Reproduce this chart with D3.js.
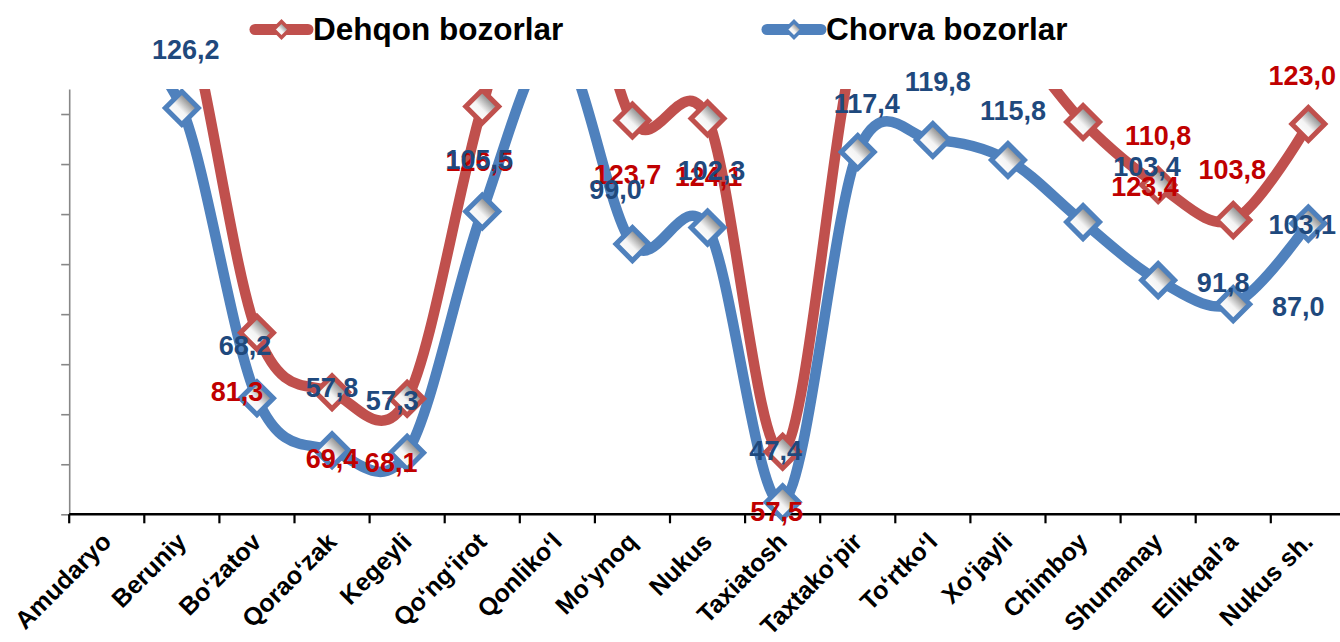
<!DOCTYPE html>
<html><head><meta charset="utf-8">
<script src="https://cdn.jsdelivr.net/npm/d3@7"></script>
<style>
body{margin:0;background:#fff;}
svg{display:block;font-family:"Liberation Sans",Arial,sans-serif;}
</style>
</head><body>
<svg id="chart" width="1340" height="642"></svg>
<script>
// ---- data ----
const categories = ["Amudaryo","Beruniy","Bo‘zatov","Qorao‘zak","Kegeyli","Qo‘ng‘irot","Qonliko‘l","Mo‘ynoq","Nukus","Taxiatosh","Taxtako‘pir","To‘rtko‘l","Xo‘jayli","Chimboy","Shumanay","Ellikqal’a","Nukus sh."];
const seriesNames = ["Dehqon bozorlar","Chorva bozorlar"];
// values above the axis maximum (130) run off the top of the plot; those are estimated from the curves
const dehqonValues = [160,148,81.3,69.4,68.1,126.5,170,123.7,124.1,57.5,141,150,141,123.4,110.8,103.8,123.0];
const chorvaValues = [140,126.2,68.2,57.8,57.3,105.5,139,99.0,102.3,47.4,117.4,119.8,115.8,103.4,91.8,87.0,103.1];
const yTicks = [45,55,65,75,85,95,105,115,125];
const yDomain = [45,130];
// data-label placement (offset of label centre from its point, px)
const dehqonLabelDx = [0,0,-20,0,-16,-3,0,-5,1,-6,0,0,0,62,0,-1,-6];
const dehqonLabelDy = [60,60,59,66,64,55,60,54,58,60,60,60,60,64,-50,-51,-49];
const chorvaLabelDx = [0,4,-12,0,-15,-3,0,-17,4,-7,9,5,5,64,65,65,-6];
const chorvaLabelDy = [-55,-59,-53,-63,-52,-52,-55,-55,-57,-52,-49,-59,-50,-56,2,2,1];

// ---- layout ----
const W = 1340, H = 642;
const plot = {left: 69.2, top: 89, bottom: 514.3, band: 75.1};
const colors = {red: "#C0504D", blue: "#4F81BD", redText: "#C00000", blueText: "#1F497D"};

const svg = d3.select("#chart");
const defs = svg.append("defs");
const grad = defs.append("linearGradient").attr("id","mk")
  .attr("x1","0.2").attr("y1","0.8").attr("x2","0.85").attr("y2","0.15");
grad.append("stop").attr("offset","0").attr("stop-color","#ffffff");
grad.append("stop").attr("offset","0.4").attr("stop-color","#f4f4f4");
grad.append("stop").attr("offset","1").attr("stop-color","#5a5a5a");
defs.append("clipPath").attr("id","clip").append("rect")
  .attr("x",0).attr("y",plot.top).attr("width",W).attr("height",H-plot.top);

const x = d3.scaleBand().domain(categories)
  .range([plot.left, plot.left + plot.band*categories.length]).padding(0);
const y = d3.scaleLinear().domain(yDomain).range([plot.bottom, plot.top]);
const cx = c => x(c) + x.bandwidth()/2;

// ---- y axis (no labels) ----
const yAxis = svg.append("g").attr("transform",`translate(${plot.left},0)`)
  .call(d3.axisLeft(y).tickValues(yTicks).tickSize(8).tickSizeOuter(0).tickFormat(""));
yAxis.select(".domain").attr("stroke","#878787").attr("stroke-width",1.6);
yAxis.selectAll(".tick line").attr("stroke","#878787").attr("stroke-width",1.6);

// ---- x axis ----
const xg = svg.append("g");
xg.append("line").attr("x1",plot.left).attr("x2",W).attr("y1",plot.bottom).attr("y2",plot.bottom)
  .attr("stroke","#000").attr("stroke-width",2.6);
const bounds = categories.map(c => x(c)).concat([x(categories[categories.length-1]) + x.bandwidth()]);
xg.selectAll("line.tk").data(bounds).join("line").attr("class","tk")
  .attr("x1",d=>d).attr("x2",d=>d).attr("y1",plot.bottom).attr("y2",plot.bottom+9)
  .attr("stroke","#000").attr("stroke-width",2.2);
xg.selectAll("text").data(categories).join("text")
  .attr("transform",c=>`translate(${cx(c)+6},${plot.bottom+29}) rotate(-45)`)
  .attr("text-anchor","end").attr("font-weight","bold").attr("font-size",25)
  .attr("fill","#000").text(c=>c);

// ---- series ----
const series = [
  {name: seriesNames[0], values: dehqonValues, color: colors.red, text: colors.redText, dx: dehqonLabelDx, dy: dehqonLabelDy},
  {name: seriesNames[1], values: chorvaValues, color: colors.blue, text: colors.blueText, dx: chorvaLabelDx, dy: chorvaLabelDy}
];
const line = d3.line().x((d,i)=>cx(categories[i])).y(d=>y(d)).curve(d3.curveCardinal.tension(0));
const diamond = r => `M0,${-r}L${r},0L0,${r}L${-r},0Z`;

const gPlot = svg.append("g").attr("clip-path","url(#clip)");
series.forEach(s => {
  gPlot.append("path").attr("d", line(s.values)).attr("fill","none")
    .attr("stroke", s.color).attr("stroke-width",10.5)
    .attr("stroke-linejoin","round").attr("stroke-linecap","round");
});
series.forEach(s => {
  gPlot.selectAll(null).data(s.values).join("path")
    .attr("transform",(d,i)=>`translate(${cx(categories[i])},${y(d)})`)
    .attr("d", diamond(16.5)).attr("fill","url(#mk)")
    .attr("stroke", s.color).attr("stroke-width",5).attr("stroke-linejoin","miter");
});

// ---- data labels ----
const fmt = v => d3.format(".1f")(v).replace(".", ",");
series.forEach(s => {
  svg.append("g").selectAll("text")
    .data(s.values.map((v,i)=>({v,i})).filter(d => d.v <= yDomain[1]))
    .join("text")
    .attr("x", d => cx(categories[d.i]) + s.dx[d.i])
    .attr("y", d => y(d.v) + s.dy[d.i] + 9.5)
    .attr("text-anchor","middle").attr("font-weight","bold").attr("font-size",27)
    .attr("fill", s.text).text(d => fmt(d.v));
});

// ---- legend ----
const legendItems = [
  {s: series[0], x0: 250, x1: 313, tx: 313},
  {s: series[1], x0: 762, x1: 826, tx: 826}
];
const lg = svg.append("g");
legendItems.forEach(it => {
  const ly = 29.5;
  lg.append("line").attr("x1",it.x0+5).attr("x2",it.x1-5).attr("y1",ly).attr("y2",ly)
    .attr("stroke", it.s.color).attr("stroke-width",11).attr("stroke-linecap","round");
  lg.append("path").attr("transform",`translate(${(it.x0+it.x1)/2},${ly})`)
    .attr("d", diamond(8)).attr("fill","url(#mk)")
    .attr("stroke", it.s.color).attr("stroke-width",3.5);
  lg.append("text").attr("x", it.tx).attr("y", 40).attr("font-weight","bold")
    .attr("font-size",31.5).attr("fill","#000").text(it.s.name);
});
</script>
</body></html>
